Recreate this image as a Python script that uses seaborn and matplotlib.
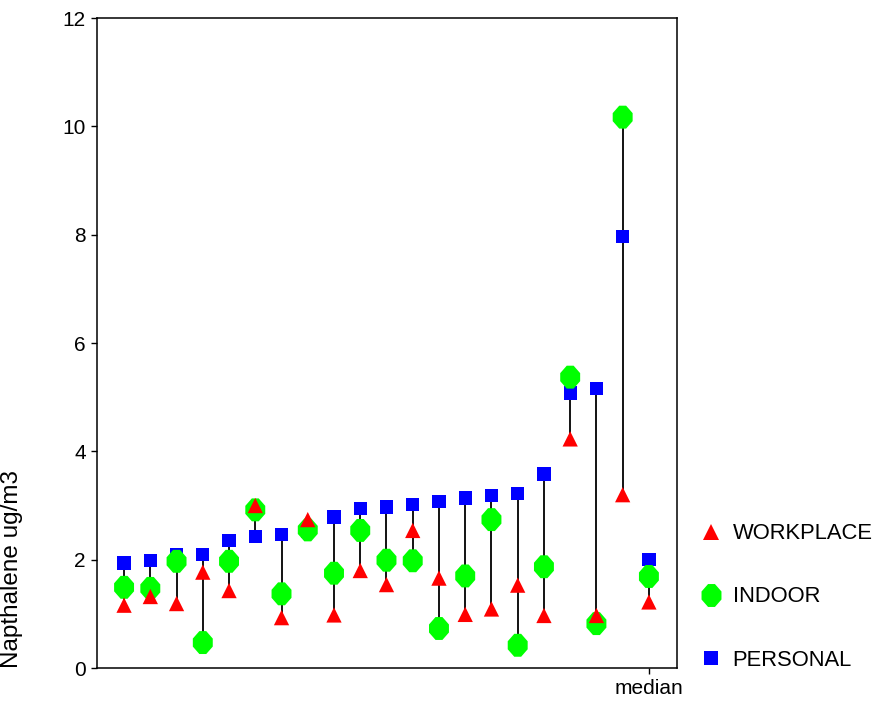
import pandas as pd
import seaborn as sns
import matplotlib.pyplot as plt
from matplotlib.lines import Line2D

# values, 20 subjects + median
subjects = list(range(1, 21)) + ['median']
workplace = [1.16, 1.32, 1.19, 1.77, 1.43, 3.00, 0.93, 2.74, 0.98, 1.80,
             1.54, 2.54, 1.66, 0.99, 1.09, 1.53, 0.97, 4.23, 0.97, 3.20, 1.22]
indoor = [1.49, 1.47, 1.97, 0.47, 1.97, 2.92, 1.37, 2.55, 1.75, 2.54,
          1.99, 1.98, 0.73, 1.70, 2.74, 0.42, 1.87, 5.37, 0.82, 10.17, 1.69]
personal = [1.94, 1.99, 2.10, 2.10, 2.36, 2.43, 2.46, 2.52, 2.79, 2.94,
            2.97, 3.02, 3.07, 3.14, 3.19, 3.22, 3.58, 5.08, 5.16, 7.97, 2.00]

sources = ['WORKPLACE', 'INDOOR', 'PERSONAL']
colors = {'WORKPLACE': '#ff0000', 'INDOOR': '#00ff00', 'PERSONAL': '#0000ff'}
# rounded diamond used for indoor
octo = [(-0.3, 1), (0.3, 1), (0.87, 0.35), (0.87, -0.35),
        (0.3, -1), (-0.3, -1), (-0.87, -0.35), (-0.87, 0.35)]
markers = {'WORKPLACE': '^', 'INDOOR': octo, 'PERSONAL': 's'}
msize = {'WORKPLACE': 11, 'INDOOR': 16.5, 'PERSONAL': 9.6}

pos = list(range(len(subjects)))
# personal drawn first, workplace on top
df = pd.concat([
    pd.DataFrame({'pos': pos, 'value': personal, 'source': 'PERSONAL'}),
    pd.DataFrame({'pos': pos, 'value': indoor, 'source': 'INDOOR'}),
    pd.DataFrame({'pos': pos, 'value': workplace, 'source': 'WORKPLACE'}),
], ignore_index=True)

sns.set_style('ticks')
plt.rcParams['font.family'] = ['Liberation Sans', 'DejaVu Sans']
plt.rcParams['text.color'] = 'black'
plt.rcParams['axes.labelcolor'] = 'black'

fig = plt.figure(figsize=(8.75, 7.04), dpi=100)
ax = fig.add_axes([0.1109, 0.0511, 0.6628, 0.9233])

lo = df.groupby('pos')['value'].min()
hi = df.groupby('pos')['value'].max()
ax.vlines(lo.index, lo.values, hi.values, color='black', lw=1.3, zorder=1)

sns.scatterplot(data=df, x='pos', y='value', hue='source', style='source',
                size='source', palette=colors, markers=markers,
                sizes={k: v ** 2 for k, v in msize.items()},
                linewidth=0, legend=False, ax=ax, zorder=2)

ax.set_xlim(-1.03, 21.07)
ax.set_ylim(0, 12)
ax.set_yticks(range(0, 13, 2))
ax.set_xticks([pos[-1]])
ax.set_xticklabels(['median'])
ax.set_xlabel('')
ax.set_ylabel('Napthalene ug/m3', fontsize=17.5)
ax.yaxis.set_label_coords(-0.128, 0.152)
ax.tick_params(labelsize=15, length=4.5, width=1, color='black', labelcolor='black')
for sp in ax.spines.values():
    sp.set_visible(True)
    sp.set_color('black')
    sp.set_linewidth(1.1)

handles = [Line2D([], [], ls='', marker=markers[s], color=colors[s],
                  markersize=msize[s], markeredgewidth=0) for s in sources]
fig.legend(handles, sources, loc='center left', bbox_to_anchor=(0.777, 0.152),
           frameon=False, fontsize=15.8, handlelength=1, handletextpad=0.5,
           labelspacing=1.92)

fig.savefig('out.png', dpi=100)
